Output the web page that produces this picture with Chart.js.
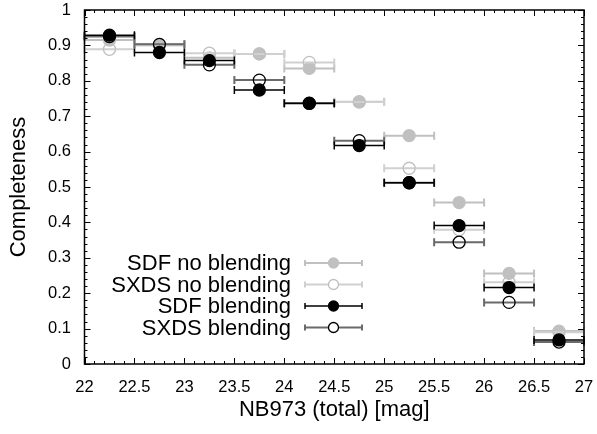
<!DOCTYPE html>
<html><head><meta charset="utf-8">
<script src="https://cdn.jsdelivr.net/npm/chart.js@4/dist/chart.umd.min.js"></script>
<style>html,body{margin:0;padding:0;background:#fff}#w{width:597px;height:434px}</style>
</head><body><div id="w"><canvas id="c" width="597" height="434"></canvas></div>
<script>
const magBins = [22.25, 22.75, 23.25, 23.75, 24.25, 24.75, 25.25, 25.75, 26.25, 26.75];
const binHalfWidth = [0.25, 0.25, 0.25, 0.25, 0.25, 0.25, 0.25, 0.25, 0.25, 0.25];
const sdfNoBlend  = [0.915, 0.903, 0.865, 0.876, 0.835, 0.741, 0.645, 0.456, 0.256, 0.093];
const sxdsNoBlend = [0.889, 0.900, 0.878, 0.876, 0.852, 0.740, 0.553, 0.379, 0.231, 0.090];
const sdfBlend    = [0.929, 0.880, 0.857, 0.774, 0.736, 0.617, 0.512, 0.391, 0.216, 0.068];
const sxdsBlend   = [0.925, 0.903, 0.845, 0.802, 0.737, 0.631, 0.512, 0.344, 0.174, 0.062];
const xTicks = [22, 22.5, 23, 23.5, 24, 24.5, 25, 25.5, 26, 26.5, 27];
const yTicks = [0, 0.1, 0.2, 0.3, 0.4, 0.5, 0.6, 0.7, 0.8, 0.9, 1];
const seriesNames = ['SDF no blending', 'SXDS no blending', 'SDF blending', 'SXDS blending'];

const FONT = '"Liberation Sans", Arial, sans-serif';
const LIGHT = '#c0c0c0', LIGHTER = '#d0d0d0', DARK = '#6a6a6a';

function pts(vals){ return magBins.map((x,i)=>({x:x, y:vals[i], xerr:binHalfWidth[i]})); }

const styles = [
  {bg: LIGHT, border: LIGHT, bar: LIGHT, lw: 2},
  {bg: 'rgba(0,0,0,0)', border: LIGHT, bar: LIGHTER, lw: 2},
  {bg: '#000', border: '#000', bar: '#000', lw: 1.5},
  {bg: 'rgba(0,0,0,0)', border: '#000', bar: DARK, lw: 2}
];
const allVals = [sdfNoBlend, sxdsNoBlend, sdfBlend, sxdsBlend];
const drawOrder = [3, 2, 0, 1];

const datasets = allVals.map((v,k)=>({
  label: seriesNames[k],
  data: pts(v),
  backgroundColor: styles[k].bg,
  borderColor: styles[k].border,
  pointRadius: 6,
  pointBorderWidth: 1.3,
  pointHoverRadius: 6,
  showLine: false,
  order: drawOrder[k],
  barColor: styles[k].bar,
  barWidth: styles[k].lw
}));

const errorBars = {
  id: 'errorBars',
  beforeDatasetDraw(chart, args){
    const ds = chart.data.datasets[args.index];
    const xs = chart.scales.x, ys = chart.scales.y, ctx = chart.ctx;
    ctx.save();
    ctx.strokeStyle = ds.barColor; ctx.lineWidth = ds.barWidth;
    ds.data.forEach(p=>{
      const x0 = xs.getPixelForValue(p.x - p.xerr), x1 = xs.getPixelForValue(p.x + p.xerr);
      const y = ys.getPixelForValue(p.y);
      ctx.beginPath();
      ctx.moveTo(x0, y); ctx.lineTo(x1, y);
      ctx.moveTo(x0, y-4); ctx.lineTo(x0, y+4);
      ctx.moveTo(x1, y-4); ctx.lineTo(x1, y+4);
      ctx.stroke();
    });
    ctx.restore();
  }
};

const frame = {
  id: 'frame',
  afterDatasetsDraw(chart){
    const {ctx, chartArea:a} = chart; const xs = chart.scales.x, ys = chart.scales.y;
    ctx.save();
    ctx.strokeStyle = '#000'; ctx.lineWidth = 1;
    ctx.beginPath();
    for (let i=0;i<=50;i++){
      const v = 22 + i*0.1; const px = Math.round(xs.getPixelForValue(v))+0.5;
      const L = (i%5===0)?6:3;
      ctx.moveTo(px, a.bottom); ctx.lineTo(px, a.bottom-L);
      ctx.moveTo(px, a.top); ctx.lineTo(px, a.top+L);
    }
    for (let i=0;i<=50;i++){
      const v = i*0.02; const py = Math.round(ys.getPixelForValue(v))+0.5;
      const L = (i%5===0)?6:3;
      ctx.moveTo(a.left, py); ctx.lineTo(a.left+L, py);
      ctx.moveTo(a.right, py); ctx.lineTo(a.right-L, py);
    }
    ctx.stroke();
    ctx.lineWidth = 1.5;
    ctx.strokeRect(a.left, a.top, a.right-a.left, a.bottom-a.top);
    // legend
    ctx.font = '22px ' + FONT; ctx.textAlign = 'right'; ctx.textBaseline = 'middle'; ctx.fillStyle = '#000';
    const rowY = [263, 284.5, 306, 327.5];
    const lx0 = 305, lx1 = 362, lmx = 333.5;
    for (let k=0;k<4;k++){
      const y = rowY[k], st = styles[k];
      ctx.fillText(seriesNames[k], 291, y+1);
      ctx.strokeStyle = st.bar; ctx.lineWidth = st.lw;
      ctx.beginPath();
      ctx.moveTo(lx0, y); ctx.lineTo(lx1, y);
      ctx.moveTo(lx0, y-3); ctx.lineTo(lx0, y+3);
      ctx.moveTo(lx1, y-3); ctx.lineTo(lx1, y+3);
      ctx.stroke();
      ctx.beginPath(); ctx.arc(lmx, y, 5, 0, Math.PI*2);
      if (k===1 || k===3){ ctx.fillStyle = '#fff'; ctx.fill(); }
      else { ctx.fillStyle = st.bg; ctx.fill(); }
      ctx.strokeStyle = st.border; ctx.lineWidth = 1.3; ctx.stroke();
      ctx.fillStyle = '#000';
    }
    ctx.restore();
  }
};

function noPad(s){ s.paddingLeft = 0; s.paddingRight = 0; s.paddingTop = 0; s.paddingBottom = 0; }

new Chart(document.getElementById('c'), {
  type: 'scatter',
  data: { datasets },
  options: {
    responsive: false, animation: false, devicePixelRatio: 1,
    layout: { padding: { top: 10, right: 13, left: 0, bottom: 0 } },
    plugins: { legend: {display:false}, tooltip: {enabled:false} },
    scales: {
      x: {
        type: 'linear', min: 22, max: 27,
        afterBuildTicks(s){ s.ticks = xTicks.map(v=>({value:v})); },
        afterFit(s){ s.height = 70; noPad(s); },
        grid: { display: false, drawTicks: false },
        border: { display: false },
        ticks: { color:'#000', font: {family: FONT, size: 16.5}, padding: 14, maxRotation: 0,
                 callback: v => String(v) },
        title: { display: true, text: 'NB973 (total) [mag]', color:'#000', font:{family: FONT, size: 22}, padding: {top: 0, bottom: 11} }
      },
      y: {
        type: 'linear', min: 0, max: 1,
        afterBuildTicks(s){ s.ticks = yTicks.map(v=>({value:v})); },
        afterFit(s){ s.width = 84.5; noPad(s); },
        grid: { display: false, drawTicks: false },
        border: { display: false },
        ticks: { color:'#000', font: {family: FONT, size: 16.5}, padding: 13.5,
                 callback: v => String(Math.round(v*10)/10) },
        title: { display: true, text: 'Completeness', color:'#000', font:{family: FONT, size: 22}, padding: {top: 6, bottom: 0} }
      }
    }
  },
  plugins: [errorBars, frame]
});
</script>
</body></html>
